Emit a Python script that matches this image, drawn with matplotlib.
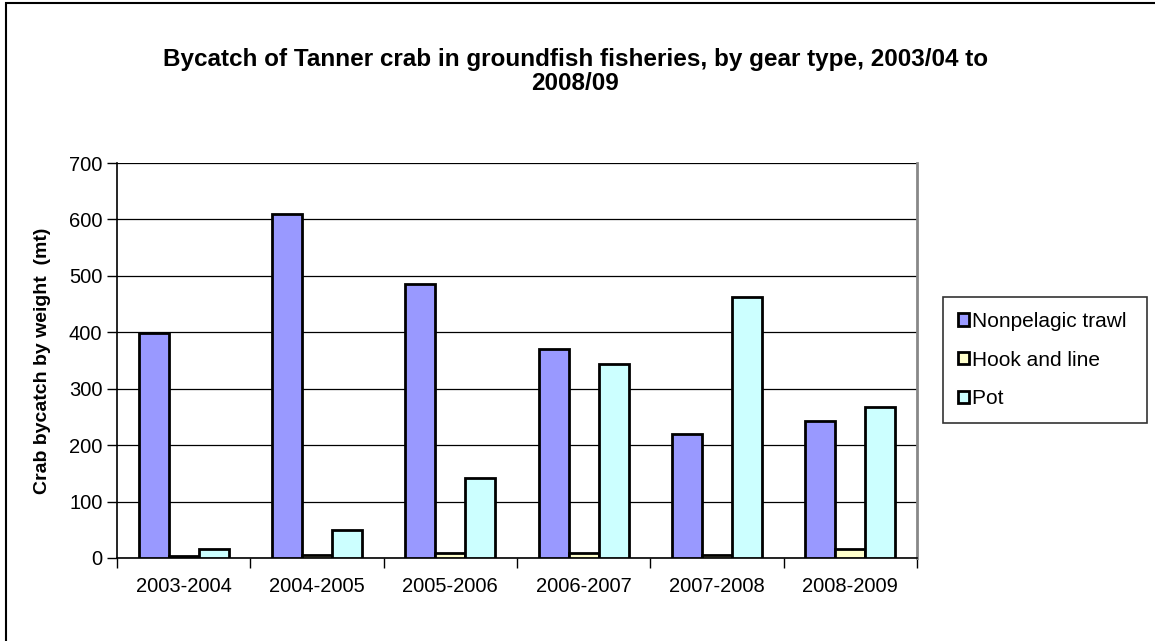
import matplotlib

matplotlib.use("Agg")
import matplotlib.pyplot as plt
import numpy as np
from matplotlib.patches import Rectangle

plt.rcParams["font.family"] = ["Liberation Sans", "DejaVu Sans"]

seasons = ["2003-2004", "2004-2005", "2005-2006", "2006-2007", "2007-2008", "2008-2009"]
gear = ["Nonpelagic trawl", "Hook and line", "Pot"]
trawl = [398, 610, 486, 370, 220, 243]
hook = [3, 5, 8, 8, 5, 16]
pot = [16, 50, 142, 344, 462, 268]
colors = ["#9999FF", "#FFFFCC", "#CCFFFF"]

fig = plt.figure(figsize=(11.55, 6.41), dpi=100)
ax = fig.add_axes([0.1013, 0.1295, 0.6927, 0.6162])

x = np.arange(len(seasons))
w = 0.225
for i, (vals, lab) in enumerate(zip([trawl, hook, pot], gear)):
    ax.bar(x + (i - 1) * w, vals, w, color=colors[i], edgecolor="black",
           linewidth=2, label=lab, zorder=3)

ax.set_xlim(-0.5, len(seasons) - 0.5)
ax.set_ylim(0, 700)
ax.set_yticks(range(0, 701, 100))
ax.yaxis.grid(True, color="black", lw=0.9, zorder=0)
ax.set_xticks(x)
ax.set_xticklabels(seasons)
ax.set_xticks(np.arange(len(seasons) + 1) - 0.5, minor=True)
ax.tick_params(axis="x", which="major", length=0, pad=14, labelsize=14.5)
ax.tick_params(axis="x", which="minor", length=7, width=1, color="black")
ax.tick_params(axis="y", length=7, width=1, labelsize=14.5, direction="out")
for s in ["left", "bottom"]:
    ax.spines[s].set_color("black")
    ax.spines[s].set_linewidth(1.2)
ax.spines["top"].set_visible(False)
ax.spines["right"].set_color("#888888")
ax.spines["right"].set_linewidth(2)
ax.set_ylabel("Crab bycatch by weight  (mt)", fontsize=14, fontweight="bold",
              labelpad=13)

fig.text(0.498, 0.889, "Bycatch of Tanner crab in groundfish fisheries, by gear type, 2003/04 to\n2008/09",
         ha="center", va="center", fontsize=17.5, fontweight="bold",
         linespacing=1.06)

leg = fig.legend(loc="center left", bbox_to_anchor=(943 / 1155, 1 - 360 / 641),
                 frameon=True, fancybox=False, edgecolor="black", fontsize=15,
                 handlelength=0.55, handleheight=0.55, handletextpad=0.15,
                 labelspacing=0.95, borderpad=0.7, borderaxespad=0)
leg.get_frame().set_linewidth(1.2)
for t in leg.get_texts():
    t.set_text(t.get_text() + " ")

fig.patches.append(Rectangle((6 / 1155, -0.05), 1.1, 1.05 - 3 / 641,
                             transform=fig.transFigure, fill=False,
                             edgecolor="black", lw=1.5))

fig.savefig("out.png", dpi=100)
